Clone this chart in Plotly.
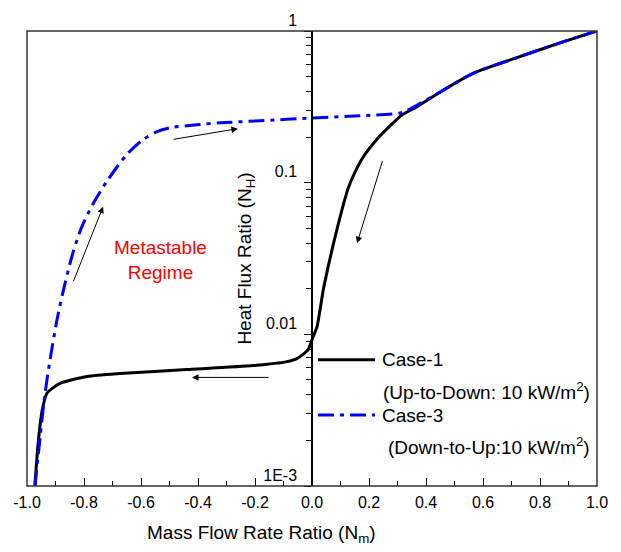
import plotly.graph_objects as go

# Case-1 (Up-to-Down), black solid
case1_x = [1.0, 0.870, 0.719, 0.565, 0.449, 0.361, 0.316, 0.267, 0.221, 0.179, 0.151, 0.126,
           0.109, 0.091, 0.074, 0.056, 0.039, 0.028, 0.0175, 0.0035, -0.014, -0.053, -0.088,
           -0.207, -0.439, -0.674, -0.789, -0.884, -0.930, -0.947, -0.961, -0.972]
case1_y = [1.0, 0.835, 0.667, 0.525, 0.395, 0.311, 0.280, 0.230, 0.187, 0.147, 0.1174, 0.0910,
           0.0705, 0.0523, 0.0387, 0.0275, 0.0194, 0.0144, 0.0112, 0.0096, 0.0079, 0.00692, 0.00661,
           0.00622, 0.00586, 0.00552, 0.00528, 0.00475, 0.00409, 0.00313, 0.00191, 0.00102]

# Case-3 (Down-to-Up), blue dash-dot
case3_x = [-0.972, -0.954, -0.937, -0.919, -0.895, -0.874, -0.839, -0.807, -0.768, -0.719,
           -0.649, -0.593, -0.544, -0.498, -0.404, -0.323, -0.182, 0.0, 0.168, 0.309, 0.344,
           0.449, 0.565, 0.719, 0.870, 1.0]
case3_y = [0.001, 0.00209, 0.00403, 0.00681, 0.0124, 0.0189, 0.0344, 0.0515, 0.0727, 0.1026,
           0.154, 0.192, 0.217, 0.230, 0.241, 0.248, 0.256, 0.267, 0.276, 0.288, 0.306,
           0.395, 0.525, 0.667, 0.835, 1.0]

x_tickvals = [-1.0, -0.8, -0.6, -0.4, -0.2, 0.0, 0.2, 0.4, 0.6, 0.8, 1.0]
x_ticktext = ["-1.0", "-0.8", "-0.6", "-0.4", "-0.2", "0.0", "0.2", "0.4", "0.6", "0.8", "1.0"]
y_tickvals = [0.001, 0.01, 0.1, 1]
y_ticktext = ["1E-3", "0.01", "0.1", "1"]
y_minor_tickvals = [m * d for d in (0.001, 0.01, 0.1) for m in range(2, 10)]

FONT = "Liberation Sans, Arial, sans-serif"

fig = go.Figure()
fig.add_trace(go.Scatter(x=case1_x, y=case1_y, mode="lines", name="Case-1",
                         line=dict(color="black", width=3, shape="spline", smoothing=0.6),
                         showlegend=False))
fig.add_trace(go.Scatter(x=case3_x, y=case3_y, mode="lines", name="Case-3",
                         line=dict(color="#0000ff", width=3, dash="16px,6px,4px,6px",
                                   shape="spline", smoothing=0.8),
                         showlegend=False))

fig.update_layout(
    width=621, height=552,
    margin=dict(l=27, r=24, t=25, b=66),
    paper_bgcolor="white", plot_bgcolor="white",
    font=dict(family=FONT, color="black"),
    xaxis=dict(range=[-1.0, 1.0], tickvals=x_tickvals, ticktext=x_ticktext,
               ticks="inside", ticklen=8, tickwidth=1.2, tickcolor="black",
               minor=dict(dtick=0.1, ticks="inside", ticklen=5, tickwidth=1.2, tickcolor="black"),
               showgrid=False, zeroline=False, showline=False,
               tickfont=dict(size=16), ticklabelstandoff=5),
    yaxis=dict(type="log", range=[-3, 0], anchor="free", position=0.5,
               tickvals=y_tickvals, ticktext=y_ticktext,
               ticks="outside", ticklen=7, tickwidth=1.2, tickcolor="black",
               minor=dict(tickvals=y_minor_tickvals, ticks="outside", ticklen=5, tickwidth=1.2,
                          tickcolor="black", showgrid=False),
               showgrid=False, zeroline=False, showline=True, linecolor="black", linewidth=1.5,
               tickfont=dict(size=16), ticklabelshift=-11, ticklabelstandoff=4,
               title=dict(text="Heat Flux Ratio (N<sub>H</sub>)", font=dict(size=19), standoff=6)),
)

# x-axis title (offset left as in reference)
fig.add_annotation(xref="paper", yref="paper", x=0.412, y=-0.105, xanchor="center", yanchor="middle",
                   text="Mass Flow Rate Ratio (N<sub>m</sub>)", showarrow=False, font=dict(size=19))

# frame
fig.add_shape(type="rect", xref="paper", yref="paper", x0=0, x1=1, y0=0, y1=1,
              line=dict(color="#333333", width=1.5))

# legend (manual)
fig.add_shape(type="line", xref="paper", yref="paper", x0=0.5105, x1=0.6105, y0=0.2777, y1=0.2777,
              line=dict(color="black", width=3))
fig.add_shape(type="line", xref="paper", yref="paper", x0=0.5105, x1=0.6105, y0=0.156, y1=0.156,
              line=dict(color="#0000ff", width=3, dash="16px,6px,4px,6px"))
leg_font = dict(size=19, color="black")
fig.add_annotation(xref="paper", yref="paper", x=0.619, y=0.2777, xanchor="left", yanchor="middle",
                   text="Case-1", showarrow=False, font=leg_font)
fig.add_annotation(xref="paper", yref="paper", x=0.991, y=0.208, xanchor="right", yanchor="middle",
                   text="(Up-to-Down: 10 kW/m<sup>2</sup>)", showarrow=False, font=leg_font)
fig.add_annotation(xref="paper", yref="paper", x=0.619, y=0.156, xanchor="left", yanchor="middle",
                   text="Case-3", showarrow=False, font=leg_font)
fig.add_annotation(xref="paper", yref="paper", x=0.991, y=0.0889, xanchor="right", yanchor="middle",
                   text="(Down-to-Up:10 kW/m<sup>2</sup>)", showarrow=False, font=leg_font)

# label
fig.add_annotation(x=-0.533, y=-1.509, text="Metastable<br>Regime", showarrow=False,
                   font=dict(size=19, color="red"), align="center")

# arrows (tail -> head); y in log10 units
arrows = [
    ((-0.491, -0.716), (-0.260, -0.644)),
    ((-0.839, -1.659), (-0.733, -1.158)),
    ((0.249, -0.846), (0.158, -1.399)),
    ((-0.147, -2.284), (-0.421, -2.284)),
]
for (tx, ty), (hx, hy) in arrows:
    fig.add_annotation(x=hx, y=hy, ax=tx, ay=ty, xref="x", yref="y", axref="x", ayref="y",
                       text="", showarrow=True, arrowhead=2, arrowsize=1.3, arrowwidth=1,
                       arrowcolor="black")

fig.write_html("out.html")
